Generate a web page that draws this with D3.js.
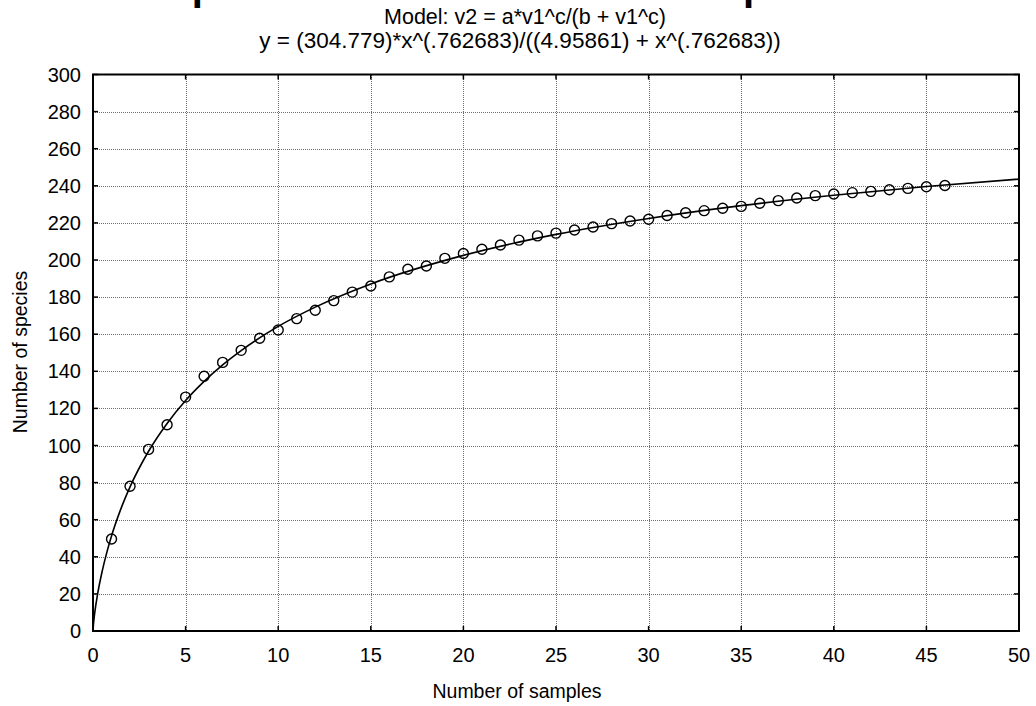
<!DOCTYPE html>
<html>
    <head>
        <title>Species accumulation</title>
        <meta charset="UTF-8">
        <script src="https://d3js.org/d3.v7.min.js"></script>
    </head>
    <body>

<style>
html, body {
  margin: 0;
  padding: 0;
  background: #ffffff;
}
svg {
  display: block;
  font-family: Arial, "Liberation Sans", sans-serif;
}
.grid line {
  stroke: #6f6f6f;
  stroke-width: 1;
  stroke-dasharray: 1,1;
  shape-rendering: crispEdges;
}
.frame {
  fill: none;
  stroke: #000;
  stroke-width: 2;
}
.tick-mark {
  stroke: #000;
  stroke-width: 1.5;
}
.ticklabel {
  font-size: 20px;
  fill: #000;
}
</style>
<script>
var samples = [1, 2, 3, 4, 5, 6, 7, 8, 9, 10,
               11, 12, 13, 14, 15, 16, 17, 18, 19, 20,
               21, 22, 23, 24, 25, 26, 27, 28, 29, 30,
               31, 32, 33, 34, 35, 36, 37, 38, 39, 40,
               41, 42, 43, 44, 45, 46];
var species = [49.6, 78.0, 97.9, 111.2, 126.1, 137.3, 144.8, 151.3, 157.8, 162.3,
               168.4, 172.9, 178.1, 182.7, 186.0, 190.9, 195.0, 196.8, 200.9, 203.5,
               205.8, 208.1, 210.7, 213.0, 214.5, 216.2, 217.8, 219.6, 221.0, 222.0,
               224.0, 225.5, 226.6, 227.9, 228.9, 230.6, 232.0, 233.4, 234.7, 235.6,
               236.3, 237.0, 237.9, 238.6, 239.5, 240.2];

// fitted curve
var fitX = [0, 0.02, 0.05, 0.1, 0.25, 0.5, 0.75, 1, 1.5, 2, 3, 4, 5, 6, 7, 8,
            10, 12, 15, 20, 25, 30, 35, 40, 45, 50];
var fitY = [0, 3.1, 6.1, 10.3, 20.0, 32.4, 42.5, 51.2, 65.7, 77.7, 96.9, 111.9, 124.3, 134.6, 143.5, 151.2,
            164.2, 174.6, 187.1, 202.5, 213.8, 222.4, 229.3, 234.9, 239.6, 243.6];

var xTicks = [0, 5, 10, 15, 20, 25, 30, 35, 40, 45, 50];
var yTicks = [0, 20, 40, 60, 80, 100, 120, 140, 160, 180, 200, 220, 240, 260, 280, 300];

var titleText = "Species accumulation vs. samples";
var subtitle1 = "Model: v2 = a*v1^c/(b + v1^c)";
var subtitle2 = "y = (304.779)*x^(.762683)/((4.95861) + x^(.762683))";
var xLabel = "Number of samples";
var yLabel = "Number of species";

var width = 1036,
    height = 706;

// plot box (named so they don't clash with window.top)
var plotLeft = 93, plotRight = 1019, plotTop = 74.5, plotBottom = 631;

var svg = d3.select("body").append("svg")
    .attr("width", width)
    .attr("height", height);

var x = d3.scaleLinear().domain([0, 50]).range([plotLeft, plotRight]);
var y = d3.scaleLinear().domain([0, 300]).range([plotBottom, plotTop]);

// titles
svg.append("text")
    .attr("x", 165)
    .attr("y", 0)
    .attr("font-size", 40)
    .attr("font-weight", "bold")
    .text(titleText);

svg.append("text")
    .attr("x", 525)
    .attr("y", 24)
    .attr("text-anchor", "middle")
    .attr("font-size", 21.5)
    .text(subtitle1);

svg.append("text")
    .attr("x", 520)
    .attr("y", 48)
    .attr("text-anchor", "middle")
    .attr("font-size", 22.5)
    .text(subtitle2);

// grid
var grid = svg.append("g").attr("class", "grid");
grid.selectAll("line.v")
    .data(xTicks.slice(1, -1))
    .enter().append("line")
    .attr("x1", function (d) { return Math.round(x(d)) + 0.5; })
    .attr("x2", function (d) { return Math.round(x(d)) + 0.5; })
    .attr("y1", plotTop)
    .attr("y2", plotBottom);
grid.selectAll("line.h")
    .data(yTicks.slice(1, -1))
    .enter().append("line")
    .attr("y1", function (d) { return Math.round(y(d)) + 0.5; })
    .attr("y2", function (d) { return Math.round(y(d)) + 0.5; })
    .attr("x1", plotLeft)
    .attr("x2", plotRight);

// inward tick marks on all four sides
var ticks = svg.append("g");
xTicks.forEach(function (d) {
    ticks.append("line").attr("class", "tick-mark")
        .attr("x1", x(d)).attr("x2", x(d)).attr("y1", plotBottom).attr("y2", plotBottom - 5);
    ticks.append("line").attr("class", "tick-mark")
        .attr("x1", x(d)).attr("x2", x(d)).attr("y1", plotTop).attr("y2", plotTop + 5);
});
yTicks.forEach(function (d) {
    ticks.append("line").attr("class", "tick-mark")
        .attr("x1", plotLeft).attr("x2", plotLeft + 5).attr("y1", y(d)).attr("y2", y(d));
    ticks.append("line").attr("class", "tick-mark")
        .attr("x1", plotRight).attr("x2", plotRight - 5).attr("y1", y(d)).attr("y2", y(d));
});

// tick labels
svg.append("g").selectAll("text")
    .data(xTicks)
    .enter().append("text")
    .attr("class", "ticklabel")
    .attr("x", function (d) { return x(d); })
    .attr("y", 662)
    .attr("text-anchor", "middle")
    .text(function (d) { return d; });

svg.append("g").selectAll("text")
    .data(yTicks)
    .enter().append("text")
    .attr("class", "ticklabel")
    .attr("x", 81)
    .attr("y", function (d) { return y(d) + 7; })
    .attr("text-anchor", "end")
    .text(function (d) { return d; });

// axis titles
svg.append("text")
    .attr("x", (plotLeft + plotRight) / 2 - 39)
    .attr("y", 698)
    .attr("text-anchor", "middle")
    .attr("font-size", 19.5)
    .text(xLabel);

svg.append("text")
    .attr("transform", "translate(27," + (352) + ") rotate(-90)")
    .attr("text-anchor", "middle")
    .attr("font-size", 19.5)
    .text(yLabel);

// fitted line
svg.append("clipPath").attr("id", "plotclip")
    .append("rect")
    .attr("x", plotLeft).attr("y", plotTop)
    .attr("width", plotRight - plotLeft).attr("height", plotBottom - plotTop);

var line = d3.line()
    .x(function (d) { return x(d[0]); })
    .y(function (d) { return y(d[1]); })
    .curve(d3.curveMonotoneX);

svg.append("path")
    .datum(d3.zip(fitX, fitY))
    .attr("clip-path", "url(#plotclip)")
    .attr("fill", "none")
    .attr("stroke", "#000")
    .attr("stroke-width", 1.6)
    .attr("d", line);

// observed points
svg.append("g").selectAll("circle")
    .data(d3.zip(samples, species))
    .enter().append("circle")
    .attr("cx", function (d) { return x(d[0]); })
    .attr("cy", function (d) { return y(d[1]); })
    .attr("r", 5)
    .attr("fill", "none")
    .attr("stroke", "#000")
    .attr("stroke-width", 1.4);

// plot frame
svg.append("rect")
    .attr("class", "frame")
    .attr("x", plotLeft).attr("y", plotTop)
    .attr("width", plotRight - plotLeft).attr("height", plotBottom - plotTop);

</script>

    </body>
</html>
